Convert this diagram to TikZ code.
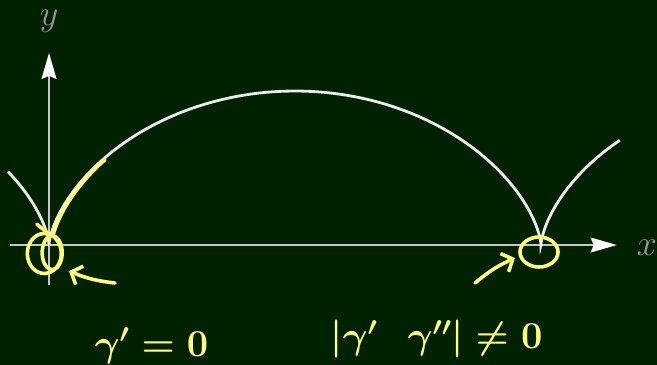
\documentclass[tikz,border=0pt]{standalone}
\usepackage{fix-cm}
\usepackage{amsmath}
\usepackage{xcolor}
\usepackage{tikz}
\usetikzlibrary{arrows.meta}
\definecolor{board}{RGB}{0,34,0}
\definecolor{chalk}{RGB}{236,236,236}
\definecolor{axisgray}{RGB}{200,200,200}
\definecolor{labelgray}{RGB}{150,150,150}
\definecolor{marker}{RGB}{255,255,128}
\colorlet{tipcol}{white}

\begin{document}
\begin{tikzpicture}[
x=78.3pt,y=77pt,
MyAxis/.style={draw=axisgray,line width=1.2pt,-{Stealth[length=26pt,width=15pt,inset=3pt,color=tipcol]}},
MyCurve/.style={draw=chalk,line width=2.8pt},
Marker/.style={draw=marker,line width=3.6pt,line cap=round,line join=round},
MarkArrow/.style={Marker,-{Straight Barb[length=9pt,width=20pt]}},
Labels/.style={text=labelgray,inner sep=0pt,font=\fontsize{36}{36}\selectfont},
Notes/.style={text=marker,inner sep=0pt,anchor=base,font=\fontsize{38}{38}\selectfont\boldmath}
]
% board
\fill[board] (-0.626,-1.558) rectangle (7.765,3.182);
\useasboundingbox (-0.626,-1.558) rectangle (7.765,3.182);

% one arch of the cycloid is 2 pi long
\pgfmathparse{2*pi}		\let\per\pgfmathresult
\pgfmathparse{-1.525}		\let\tmin\pgfmathresult
\pgfmathparse{\per+1.94}		\let\tmax\pgfmathresult

\coordinate (O) at (0,0);
\coordinate (C) at (\per,0);

% axes
\coordinate (xstart) at (-0.5,0);
\coordinate (xend) at (7.25,0);
\coordinate (ystart) at (0,-0.52);
\coordinate (yend) at (0,2.494);
\draw[MyAxis] (xstart)--(xend);
\draw[MyAxis] (ystart)--(yend);
\node[Labels] (xlab) at (7.637,-0.04) {$x$};
\node[Labels] (ylab) at (0,2.91) {$y$};

% cycloid
\draw[MyCurve,domain=\tmin:\tmax,samples=240,variable=\t]
  plot ({\t-sin(\t r)},{1-cos(\t r)});

% marks
\coordinate (hook) at (-0.155,0.27);
\coordinate (hookend) at (0.02,0.125);
\draw[Marker] (hook)--(hookend)--plot[domain=0.5:1.68,samples=40,variable=\t]
  ({\t-sin(\t r)+0.03},{1-cos(\t r)});

\draw[Marker] (-0.06,-0.11) ellipse [x radius=17pt,y radius=20pt];
\draw[Marker] (0.04,-0.10) ellipse [x radius=10pt,y radius=17pt];
\draw[Marker] (6.258,-0.091) ellipse [x radius=19pt,y radius=15pt];

\coordinate (tailA) at (0.843,-0.494);
\coordinate (tipA) at (0.255,-0.338);
\draw[MarkArrow] (tailA) to[bend left=8] (tipA);

\coordinate (tailB) at (5.441,-0.494);
\coordinate (tipB) at (5.951,-0.169);
\draw[MarkArrow] (tailB) to[bend left=8] (tipB);

\node[Notes] (zero) at (1.31,-1.45) {$\gamma'=0$};
\node[Notes] (nonzero) at (4.95,-1.35) {$|\gamma'\hspace{0.8em}\gamma''|\neq0$};

\end{tikzpicture}
\end{document}
